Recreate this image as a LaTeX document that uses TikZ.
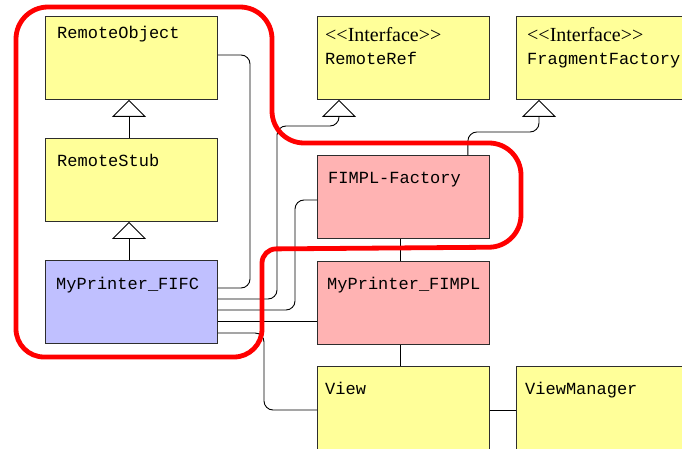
\documentclass[tikz,border=0pt]{standalone}
\usepackage{fontspec}
\setmainfont{Liberation Serif}
\setmonofont{Liberation Mono}
\usetikzlibrary{arrows.meta}
\definecolor{ylw}{RGB}{255,255,153}
\definecolor{pnk}{RGB}{255,179,179}
\definecolor{blu}{RGB}{192,192,255}
\definecolor{edgec}{RGB}{45,45,45}
\tikzset{
  box/.style={draw=edgec, line width=0.9pt, minimum width=172pt, minimum height=83pt, inner sep=0pt, anchor=north west},
  mono/.style={font=\ttfamily\fontsize{17}{20}\selectfont, anchor=base west, inner sep=0pt, text=black},
  serif/.style={font=\rmfamily\fontsize{20}{24}\selectfont, anchor=base west, inner sep=0pt, text=black},
  conn/.style={draw=black, line width=0.9pt, rounded corners=9pt},
  inh/.style={conn, -{Triangle[open, length=17pt, width=34pt, fill=white]}},
  hilite/.style={draw=red, line width=4.8pt, line join=round}
}
\begin{document}
\begin{tikzpicture}[x=1pt, y=-1pt]
\clip (0,0) rectangle (682,449);
\fill[white] (0,0) rectangle (682,449);
% boxes
\node[box, fill=ylw] (ro) at (45,16) {};
\node[box, fill=ylw] (rs) at (45,138) {};
\node[box, fill=blu] (fifc) at (45,260) {};
\node[box, fill=ylw] (rr) at (317,16) {};
\node[box, fill=ylw, minimum width=200pt] (ff) at (516,16) {};
\node[box, fill=pnk] (fimplf) at (317,155) {};
\node[box, fill=pnk] (fimpl) at (317,261) {};
\node[box, fill=ylw, minimum height=100pt] (view) at (317,366) {};
\node[box, fill=ylw, minimum width=200pt, minimum height=100pt] (vm) at (516,366) {};
% texts
\node[mono] (rot) at (57,39) {RemoteObject};
\node[mono] (rst) at (57,167) {RemoteStub};
\node[mono] (fifct) at (56,289) {MyPrinter\_FIFC};
\node[serif] (rri) at (325,42) {<{}<Interface>{}>};
\node[mono] (rrt) at (325,65) {RemoteRef};
\node[serif] (ffi) at (527,42) {<{}<Interface>{}>};
\node[mono] (fft) at (527,65) {FragmentFactory};
\node[mono] (fimplft) at (328,184) {FIMPL-Factory};
\node[mono] (fimplt) at (327,289) {MyPrinter\_FIMPL};
\node[mono] (viewt) at (325,394) {View};
\node[mono] (vmt) at (525,394) {ViewManager};
% lane coordinates
\coordinate (l1) at ([yshift=-28pt]fifc.north east);
\coordinate (l2) at ([yshift=-39pt]fifc.north east);
\coordinate (l3) at ([yshift=-50pt]fifc.north east);
\coordinate (l4) at ([yshift=-61pt]fifc.north east);
\coordinate (l5) at ([yshift=-73pt]fifc.north east);
\coordinate (roe) at ([yshift=-39pt]ro.north east);
\coordinate (rrtip) at ([xshift=22pt]rr.south west);
\coordinate (fftip) at ([xshift=23pt]ff.south west);
\coordinate (fft0) at ([xshift=-22pt]fimplf.north east);
\coordinate (fimplfw) at ([yshift=-45pt]fimplf.north west);
\coordinate (vieww) at ([yshift=-44pt]view.north west);
% inheritance
\draw[inh] ([xshift=-2.5pt]rs.north) -- ([xshift=-2.5pt]ro.south);
\draw[inh] ([xshift=-2.5pt]fifc.north) -- ([xshift=-2.5pt]rs.south);
\draw[inh] (l2) -- (277,299) -- (277,126) -- (rrtip |- 0,126) -- (rrtip);
\draw[inh] (fft0) -- (fft0 |- 0,132) -- (fftip |- 0,132) -- (fftip);
% associations
\draw[conn] (roe) -- (250,55) -- (250,288) -- (l1);
\draw[conn] (l3) -- (295,310) -- (295,200) -- (fimplfw);
\draw[conn] (l4) -- (l4 -| fimpl.west);
\draw[conn] (l5) -- (264,333) -- (264,410) -- (vieww);
\draw[conn] ([xshift=-3pt]fimplf.south) -- ([xshift=-3pt]fimpl.north);
\draw[conn] ([xshift=-3pt]fimpl.south) -- ([xshift=-3pt]view.north);
\draw[conn] (vieww -| view.east) -- (vieww -| vm.west);
% highlight
\draw[hilite, rounded corners=32pt] (16,200) -- (16,7) -- (272,7) -- (272,143) -- (521,143) -- (521,247) [rounded corners=14pt] -- (262,249) [rounded corners=28pt] -- (262,357) -- (16,357) -- cycle;
\end{tikzpicture}
\end{document}
